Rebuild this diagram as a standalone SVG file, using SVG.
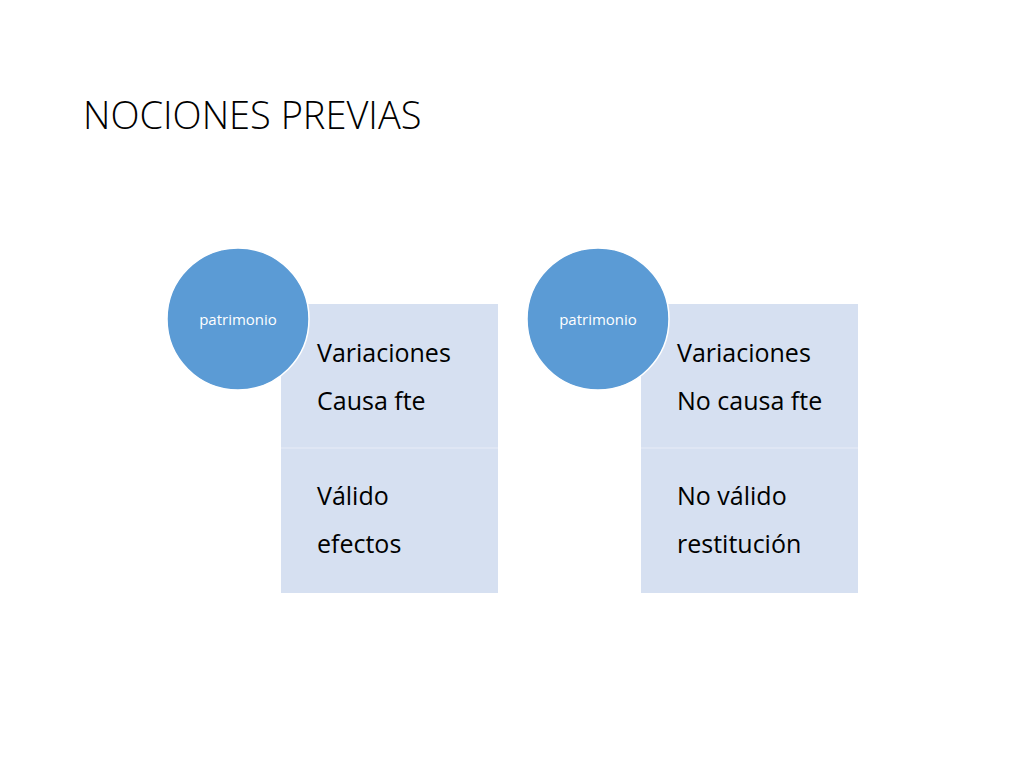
<svg xmlns="http://www.w3.org/2000/svg" width="1024" height="768" viewBox="0 0 1024 768">
<style>
.box{fill:#D6E0F1}
.div{stroke:#E2E9F5;stroke-width:1.5}
.circ{fill:#5B9BD5;stroke:#FFFFFF;stroke-width:1.5}
.t{font-family:"Open Sans","Liberation Sans",sans-serif;font-size:25px;fill:#000}
.c{font-family:"Open Sans","Liberation Sans",sans-serif;font-size:15px;fill:#FFFFFF;text-anchor:middle}
.title{font-family:"Open Sans","Liberation Sans",sans-serif;font-weight:300;font-size:38px;fill:#000}
</style>
<rect width="1024" height="768" fill="#FFFFFF"/>
<text class="title" x="83" y="129">NOCIONES PREVIAS</text>
<g id="left">
<rect class="box" x="281" y="304" width="217" height="289"/>
<line class="div" x1="281" y1="448" x2="498" y2="448"/>
<text class="t" x="317" y="362">Variaciones</text>
<text class="t" x="317" y="410">Causa fte</text>
<text class="t" x="317" y="505">Válido</text>
<text class="t" x="317" y="553">efectos</text>
</g>
<g id="left-circle">
<circle class="circ" cx="238" cy="319" r="71"/>
<text class="c" x="238" y="325">patrimonio</text>
</g>
<g id="right">
<rect class="box" x="641" y="304" width="217" height="289"/>
<line class="div" x1="641" y1="448" x2="858" y2="448"/>
<text class="t" x="677" y="362">Variaciones</text>
<text class="t" x="677" y="410">No causa fte</text>
<text class="t" x="677" y="505">No válido</text>
<text class="t" x="677" y="553">restitución</text>
</g>
<g id="right-circle">
<circle class="circ" cx="598" cy="319" r="71"/>
<text class="c" x="598" y="325">patrimonio</text>
</g>
<g id="connectors"/>
</svg>
